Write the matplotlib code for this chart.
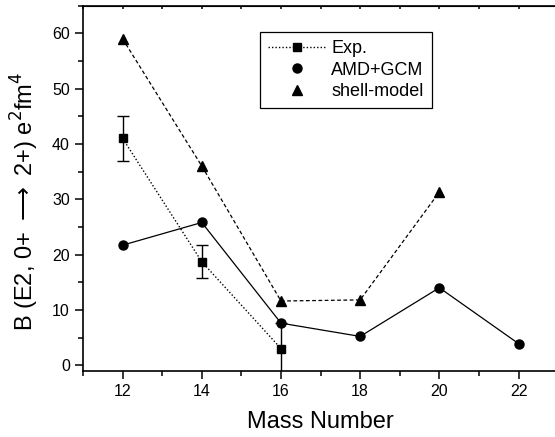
import matplotlib
matplotlib.use("Agg")
import matplotlib.pyplot as plt
from matplotlib.ticker import MultipleLocator

plt.rcParams['font.family'] = ['Liberation Sans', 'DejaVu Sans']

# data
exp_mass = [12, 14, 16]
exp_val = [41.0, 18.7, 3.0]
exp_err = [4.0, 3.0, 4.6]

amd_mass = [12, 14, 16, 18, 20, 22]
amd_val = [21.7, 25.8, 7.6, 5.2, 14.0, 3.9]

shell_mass = [12, 14, 16, 18, 20]
shell_val = [59.0, 36.0, 11.6, 11.8, 31.3]

fig = plt.figure(figsize=(5.55, 4.37), dpi=100)
ax = fig.add_axes([0.1496, 0.1517, 0.856, 0.8353])

# error bars first, then the lines with markers
ax.errorbar(exp_mass, exp_val, yerr=exp_err, color='black', ls='none',
            capsize=4, elinewidth=1, capthick=1)
ax.plot(exp_mass, exp_val, color='black', ls=(0, (1, 1.5)), lw=1,
        marker='s', ms=5.5, label='Exp.')
ax.plot(amd_mass, amd_val, color='black', ls='-', lw=0.9, marker='o', ms=6.5)
ax.plot([], [], color='black', ls='none', marker='o', ms=6.5,
        label='AMD+GCM')
ax.plot(shell_mass, shell_val, color='black', ls=(0, (3, 2)), lw=0.9,
        marker='^', ms=7)
ax.plot([], [], color='black', ls='none', marker='^', ms=7,
        label='shell-model')

ax.set_xlim(11, 23)
ax.set_ylim(-1, 65)
ax.xaxis.set_major_locator(MultipleLocator(2))
ax.xaxis.set_minor_locator(MultipleLocator(1))
ax.yaxis.set_major_locator(MultipleLocator(10))
ax.yaxis.set_minor_locator(MultipleLocator(5))
ax.tick_params(which='both', direction='out', labelsize=11.5, width=1.1)
ax.tick_params(which='major', length=6)
ax.tick_params(which='minor', length=3.5)
# short inward ticks along the top
sec = ax.secondary_xaxis('top')
sec.xaxis.set_major_locator(MultipleLocator(1))
sec.tick_params(direction='in', length=2.5, labeltop=False, width=1.1)
for s in ax.spines.values():
    s.set_linewidth(1.2)

ax.set_xlabel('Mass Number', fontsize=17, labelpad=9)
ax.set_ylabel(r'B (E2, 0+ $\longrightarrow$ 2+) e$^2$fm$^4$', fontsize=17)
ax.yaxis.set_label_coords(-0.088, 0.465)

leg = ax.legend(loc='upper left', bbox_to_anchor=(0.372, 0.928),
                borderaxespad=0, fontsize=13, frameon=True, fancybox=False,
                edgecolor='black', framealpha=1, handlelength=3.2,
                handletextpad=0.3, borderpad=0.45, labelspacing=0.25)
leg.get_frame().set_linewidth(0.9)

fig.savefig('out.png', dpi=100)
